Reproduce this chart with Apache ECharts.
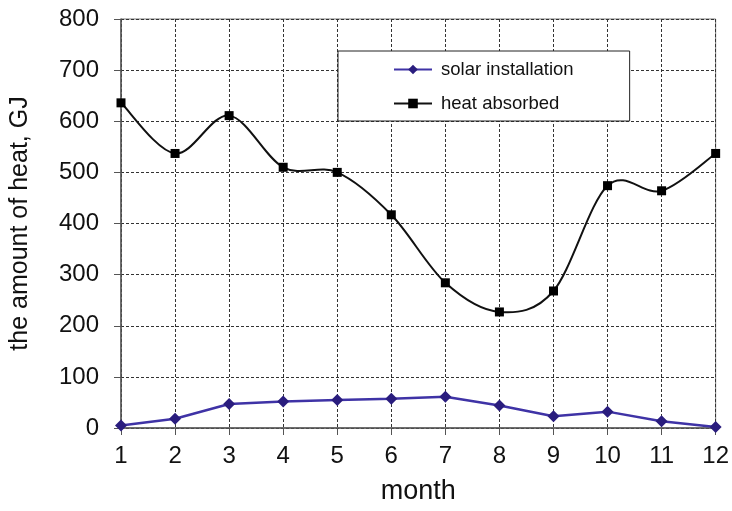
<!DOCTYPE html>
<html>
<head>
<meta charset="utf-8">
<script src="https://cdn.jsdelivr.net/npm/echarts@6/dist/echarts.min.js"></script>
<style>
  html, body { margin: 0; padding: 0; background: #fff; }
  #chart { width: 732px; height: 511px; }
</style>
</head>
<body>
<div id="chart"></div>
<script>
// Monthly heat balance, GJ
var months = ['1', '2', '3', '4', '5', '6', '7', '8', '9', '10', '11', '12'];
var solarInstallation = [5, 18, 47, 52, 55, 57, 61, 44, 23, 32, 13, 2];
var heatAbsorbed = [636, 537, 611, 510, 500, 417, 284, 227, 268, 474, 464, 537];
var yTicks = { min: 0, max: 800, step: 100 };

var font = 'Arial, "Liberation Sans", sans-serif';
var chart = echarts.init(document.getElementById('chart'));

// Smooth curve through the heat points: one cubic Bezier per month interval,
// control points taken from the neighbouring points (Catmull-Rom style).
function renderHeatCurve(params, api) {
  var n = heatAbsorbed.length;
  var i = params.dataIndex;
  if (i >= n - 1) return null;
  function pt(k) {
    var j = Math.max(0, Math.min(n - 1, k));
    return api.coord([j, heatAbsorbed[j]]);
  }
  var p0 = pt(i - 1), p1 = pt(i), p2 = pt(i + 1), p3 = pt(i + 2);
  return {
    type: 'bezierCurve',
    shape: {
      x1: p1[0], y1: p1[1],
      x2: p2[0], y2: p2[1],
      cpx1: p1[0] + (p2[0] - p0[0]) / 6,
      cpy1: p1[1] + (p2[1] - p0[1]) / 6,
      cpx2: p2[0] - (p3[0] - p1[0]) / 6,
      cpy2: p2[1] - (p3[1] - p1[1]) / 6
    },
    style: { stroke: '#111', lineWidth: 2, fill: null }
  };
}

chart.setOption({
  animation: false,
  backgroundColor: '#fff',
  grid: {
    left: 117, right: 15, top: 19, bottom: 83,
    show: true, borderColor: '#777', borderWidth: 1, backgroundColor: 'transparent'
  },
  legend: {
    orient: 'vertical',
    left: 338,
    top: 51,
    padding: [9, 56, 8, 55],
    itemGap: 15,
    itemWidth: 38,
    itemHeight: 12,
    backgroundColor: '#fff',
    borderColor: '#222',
    borderWidth: 1,
    borderRadius: 0,
    textStyle: { fontFamily: font, fontSize: 18.5, color: '#111', padding: [0, 0, 0, 4] },
    data: [
      { name: 'solar installation' },
      { name: 'heat absorbed', lineStyle: { color: '#111', width: 2, opacity: 1 } }
    ]
  },
  xAxis: {
    type: 'category',
    data: months,
    boundaryGap: false,
    name: 'month',
    nameLocation: 'middle',
    nameGap: 50,
    nameTextStyle: { fontFamily: font, fontSize: 27, color: '#111' },
    axisLine: { lineStyle: { color: '#555', width: 1.5 } },
    axisTick: { show: true, length: 7, inside: false, lineStyle: { color: '#555' } },
    axisLabel: { fontFamily: font, fontSize: 24, color: '#111', margin: 16 },
    splitLine: { show: true, lineStyle: { color: '#333', type: [3, 2], width: 1 } }
  },
  yAxis: {
    type: 'value',
    min: yTicks.min,
    max: yTicks.max,
    interval: yTicks.step,
    name: 'the amount of heat, GJ',
    nameLocation: 'middle',
    nameGap: 88,
    nameTextStyle: { fontFamily: font, fontSize: 25, color: '#111' },
    axisLine: { show: true, lineStyle: { color: '#555', width: 1.5 } },
    axisTick: { show: true, length: 7, inside: false, lineStyle: { color: '#555' } },
    axisLabel: { fontFamily: font, fontSize: 24, color: '#111', margin: 22 },
    splitLine: { show: true, lineStyle: { color: '#333', type: [3, 2], width: 1 } }
  },
  series: [
    {
      name: 'solar installation',
      type: 'line',
      data: solarInstallation,
      symbol: 'diamond',
      symbolSize: 12,
      lineStyle: { color: '#3f33a6', width: 2.5 },
      itemStyle: { color: '#2a1d7e' },
      z: 3
    },
    {
      name: 'heat curve',
      type: 'custom',
      data: heatAbsorbed.map(function (v, i) { return [i, v]; }),
      encode: { x: 0, y: 1 },
      renderItem: renderHeatCurve,
      silent: true,
      z: 4
    },
    {
      name: 'heat absorbed',
      type: 'line',
      data: heatAbsorbed,
      symbol: 'rect',
      symbolSize: 9,
      lineStyle: { color: '#111', width: 2, opacity: 0 },
      itemStyle: { color: '#000' },
      z: 5
    }
  ]
});
</script>
</body>
</html>
